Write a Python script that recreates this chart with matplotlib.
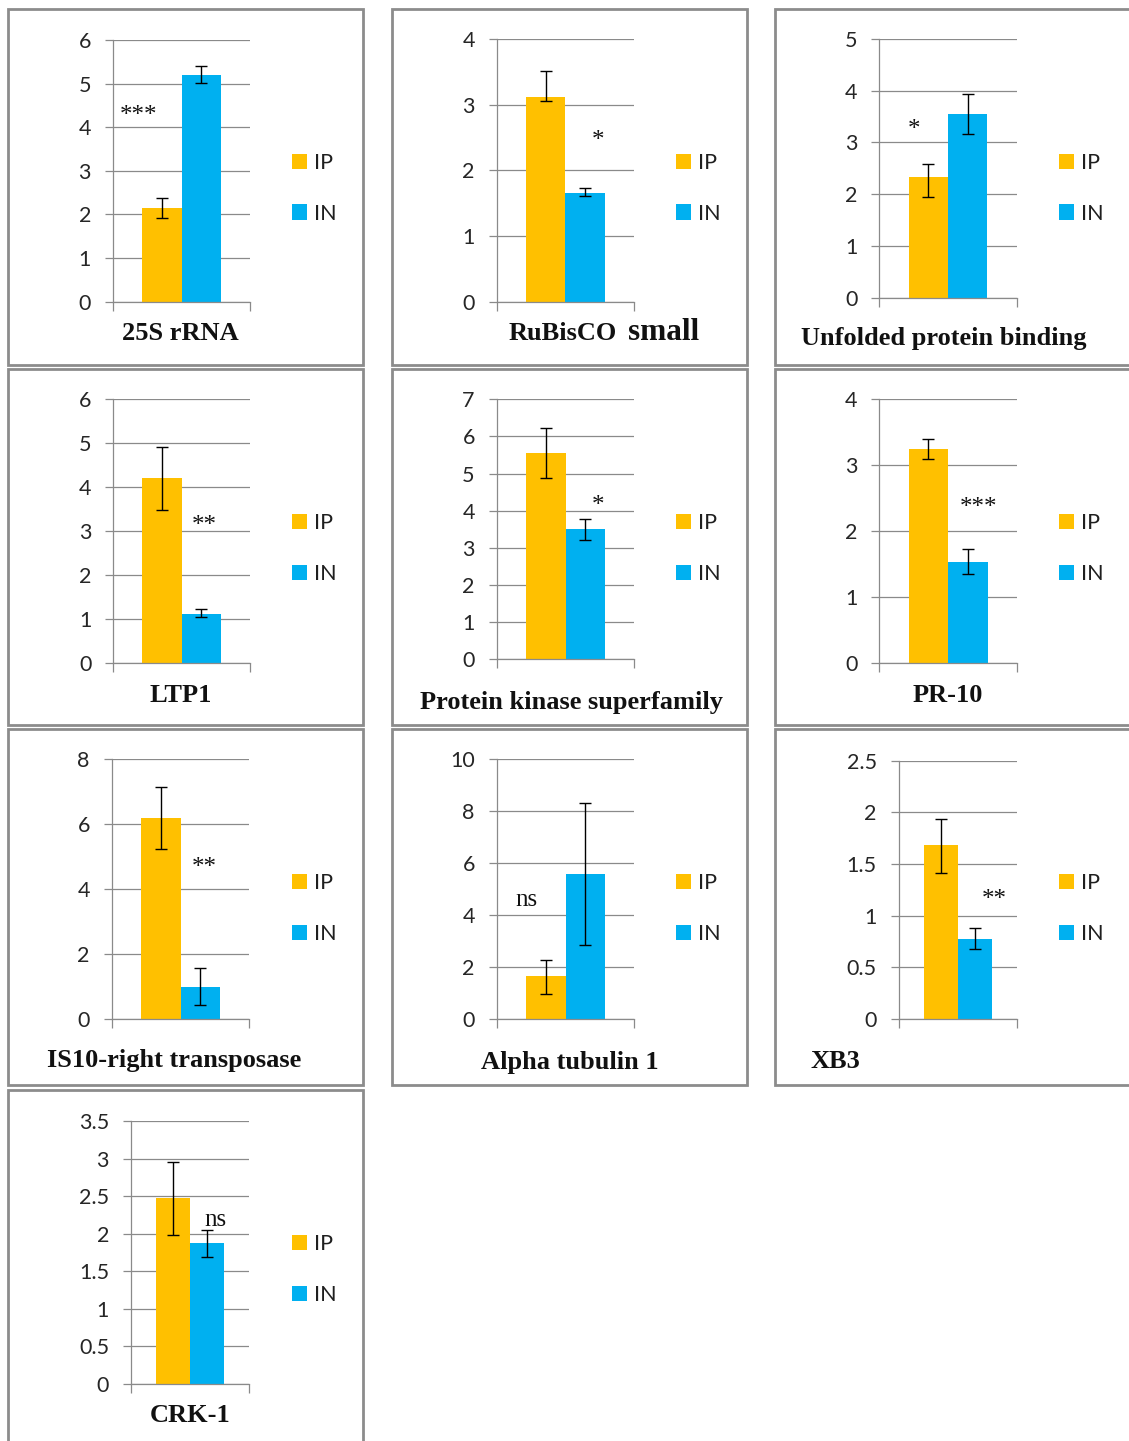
import matplotlib
matplotlib.use("Agg")
import numpy as np
import matplotlib.pyplot as plt
from matplotlib.patches import Rectangle, Patch
from matplotlib.ticker import FuncFormatter

# ---- data -------------------------------------------------------------
genes = ["25S rRNA", "RuBisCO small", "Unfolded protein binding", "LTP1",
         "Protein kinase superfamily", "PR-10", "IS10-right transposase",
         "Alpha tubulin 1", "XB3", "CRK-1"]
series_names = ["IP", "IN"]

ip_mean = [2.15, 3.12, 2.33, 4.20, 5.54, 3.24, 6.18, 1.64, 1.68, 2.47]
ip_lower = [1.91, 3.06, 1.95, 3.48, 4.88, 3.10, 5.23, 0.97, 1.41, 1.98]
ip_upper = [2.37, 3.52, 2.59, 4.92, 6.23, 3.40, 7.16, 2.27, 1.94, 2.96]

in_mean = [5.20, 1.66, 3.55, 1.11, 3.50, 1.53, 0.99, 5.60, 0.77, 1.87]
in_lower = [5.02, 1.61, 3.16, 1.05, 3.22, 1.34, 0.43, 2.85, 0.68, 1.69]
in_upper = [5.40, 1.73, 3.93, 1.22, 3.77, 1.73, 1.58, 8.32, 0.88, 2.05]

significance = ["***", "*", "*", "**", "*", "***", "**", "ns", "**", "ns"]
y_max = [6, 4, 5, 6, 7, 4, 8, 10, 2.5, 3.5]
y_step = [1, 1, 1, 1, 1, 1, 2, 2, 0.5, 0.5]

# ---- layout (pixels on a 1129 x 1441 canvas) ----------------------------
W, H = 1129, 1441
col_x = [8, 392, 775]
row_y = [9, 369, 729, 1090]
panel_w, panel_h = 355, 356

# plot area of each panel: left, top, right, bottom
plot_box = [
    (113.0, 40.0, 250.0, 301.7),
    (496.7, 39.0, 634.0, 301.7),
    (879.3, 39.0, 1016.7, 297.7),
    (113.3, 399.3, 250.0, 662.7),
    (496.7, 399.3, 634.3, 659.0),
    (879.3, 399.3, 1017.0, 662.7),
    (111.7, 759.3, 249.3, 1019.0),
    (496.7, 759.3, 634.3, 1019.0),
    (898.7, 760.7, 1016.7, 1019.0),
    (131.0, 1121.0, 249.3, 1383.7),
]
# centre of each gene name
title_xy = [(180, 334), (604, 333), (944, 339), (181, 695), (572, 703),
            (948, 695), (174, 1060), (570, 1062), (835, 1062), (190, 1416)]
# significance label position, in data units of each panel
mark_xy = [(-0.31, 4.26), (0.24, 2.45), (-0.245, 3.24), (0.163, 3.11),
           (0.24, 4.13), (0.219, 2.35), (0.171, 4.64), (-0.282, 4.58),
           (0.31, 1.15), (0.21, 2.18)]

IP_COLOR = "#FFC000"
IN_COLOR = "#00B0F0"
GRID = "#8a8a8a"
BORDER = "#8c8c8c"
LABEL = "#262626"
SANS = ["Lato", "DejaVu Sans"]
SERIF = ["Liberation Serif", "DejaVu Serif"]

fig = plt.figure(figsize=(W / 100, H / 100), dpi=100)
fig.patch.set_facecolor("white")


def fx(x):
    return x / W


def fy(y):
    return 1 - y / H


# panel frames
for i in range(len(genes)):
    c, r = i % 3, i // 3
    x0, y0 = col_x[c], row_y[r]
    fig.patches.append(Rectangle((fx(x0), fy(y0 + panel_h)), panel_w / W, panel_h / H,
                                 transform=fig.transFigure, fill=False,
                                 edgecolor=BORDER, linewidth=2.0, zorder=0))

bar_w = 0.287
for i, gene in enumerate(genes):
    c, r = i % 3, i // 3
    x0, y0 = col_x[c], row_y[r]
    l, t, rr, b = plot_box[i]
    ax = fig.add_axes([fx(l), fy(b), (rr - l) / W, (b - t) / H])

    xs = [-bar_w / 2, bar_w / 2]
    means = [ip_mean[i], in_mean[i]]
    lows = [ip_lower[i], in_lower[i]]
    highs = [ip_upper[i], in_upper[i]]
    ax.bar(xs, means, width=bar_w, color=[IP_COLOR, IN_COLOR], zorder=2)
    yerr = [[m - lo for m, lo in zip(means, lows)],
            [hi - m for m, hi in zip(means, highs)]]
    ax.errorbar(xs, means, yerr=yerr, fmt="none", ecolor="black",
                elinewidth=1.0, capsize=4.6, capthick=1.0, zorder=3)

    ax.set_xlim(-0.5, 0.5)
    ax.set_ylim(0, y_max[i])
    ax.set_xticks([-0.5, 0.5])
    ax.set_yticks(np.arange(0, y_max[i] + y_step[i] / 2, y_step[i]))
    ax.yaxis.set_major_formatter(FuncFormatter(lambda v, p: f"{v:g}"))
    ax.tick_params(axis="x", length=6.5, width=0.9, color=GRID, labelbottom=False)
    ax.tick_params(axis="y", length=5.8, width=0.9, color=GRID, pad=10,
                   labelsize=15.5, labelcolor=LABEL)
    for lab in ax.get_yticklabels():
        lab.set_family(SANS)
    ax.yaxis.grid(True, color=GRID, linewidth=0.9)
    ax.set_axisbelow(True)
    for s in ("top", "right"):
        ax.spines[s].set_visible(False)
    for s in ("left", "bottom"):
        ax.spines[s].set_color(GRID)
        ax.spines[s].set_linewidth(0.9)

    mx, my = mark_xy[i]
    ax.text(mx, my, significance[i], ha="center", va="center",
            fontsize=18, family=SERIF, color="#111111", zorder=4)

    handles = [Patch(facecolor=IP_COLOR), Patch(facecolor=IN_COLOR)]
    ax.legend(handles, series_names, loc="center left",
              bbox_to_anchor=(fx(x0 + 284), fy(y0 + 179.5)),
              bbox_transform=fig.transFigure, frameon=False, borderpad=0,
              borderaxespad=0, handlelength=0.7, handleheight=0.7,
              handletextpad=0.3, labelspacing=1.4,
              prop={"family": SANS, "size": 15.5}, labelcolor="#1f1f1f")

    tx, ty = title_xy[i]
    if gene == "RuBisCO small":
        fig.text(fx(563), fy(ty), "RuBisCO", ha="center", va="center",
                 fontsize=19, fontweight="bold", family=SERIF, color="#111111")
        fig.text(fx(664), fy(ty - 1), "small", ha="center", va="center",
                 fontsize=22.5, fontweight="bold", family=SERIF, color="#111111")
    else:
        fig.text(fx(tx), fy(ty), gene, ha="center", va="center",
                 fontsize=19, fontweight="bold", family=SERIF, color="#111111")

fig.savefig("out.png", dpi=100, facecolor="white")
